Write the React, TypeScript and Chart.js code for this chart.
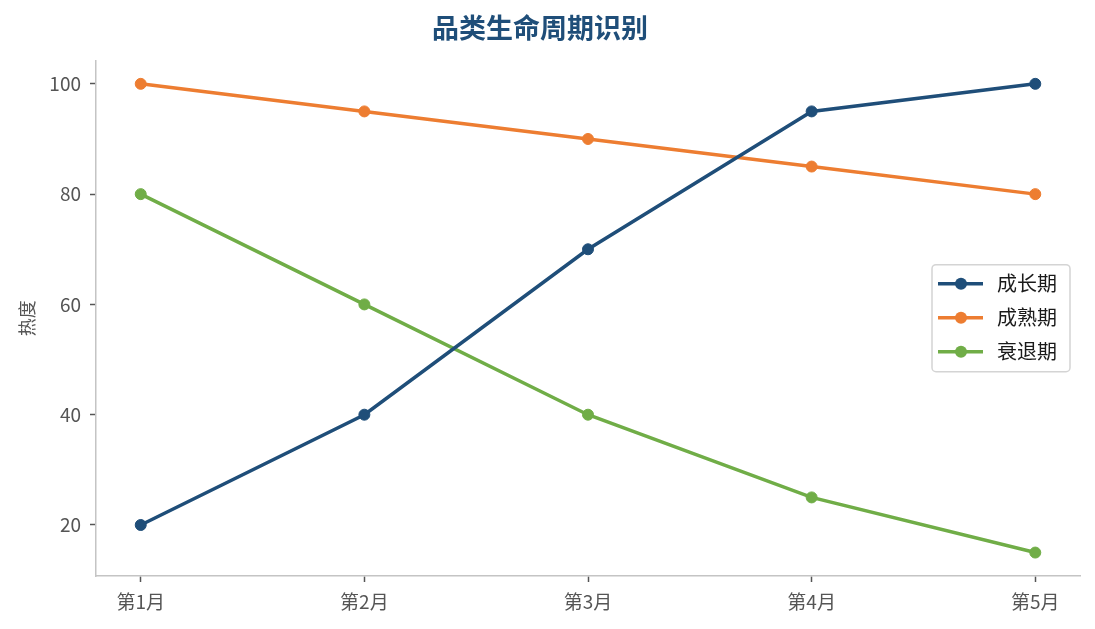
import { useEffect, useRef } from 'react'
import { Chart, registerables } from 'chart.js'

Chart.register(...registerables)

const MONTHS = ['第1月', '第2月', '第3月', '第4月', '第5月']
const GROWTH = [20, 40, 70, 95, 100]
const MATURE = [100, 95, 90, 85, 80]
const DECLINE = [80, 60, 40, 25, 15]
const Y_TICKS = [20, 40, 60, 80, 100]

const SERIES = [
  { label: '成长期', values: GROWTH, color: '#1f4e79' },
  { label: '成熟期', values: MATURE, color: '#ed7d31' },
  { label: '衰退期', values: DECLINE, color: '#70ad47' },
]

const FONT = '"Noto Sans CJK SC", "Noto Sans", sans-serif'

// legend drawn inside the plot, right side, like matplotlib's loc="center right"
const insideLegend = {
  id: 'insideLegend',
  afterDraw(chart: Chart) {
    const { ctx, chartArea } = chart
    const w = 138
    const h = 107
    const x = chartArea.right - 10 - w
    const y = (chartArea.top + chartArea.bottom) / 2 - h / 2
    ctx.save()
    ctx.beginPath()
    ctx.roundRect(x, y, w, h, 4)
    ctx.fillStyle = 'rgba(255,255,255,0.85)'
    ctx.fill()
    ctx.lineWidth = 1.5
    ctx.strokeStyle = '#d4d4d4'
    ctx.stroke()
    ctx.font = `20px ${FONT}`
    ctx.textBaseline = 'middle'
    SERIES.forEach((s, i) => {
      const cy = y + 19 + i * 34
      ctx.strokeStyle = s.color
      ctx.lineWidth = 3.5
      ctx.beginPath()
      ctx.moveTo(x + 6, cy)
      ctx.lineTo(x + 51, cy)
      ctx.stroke()
      ctx.fillStyle = s.color
      ctx.beginPath()
      ctx.arc(x + 29, cy, 6, 0, Math.PI * 2)
      ctx.fill()
      ctx.fillStyle = '#1a1a1a'
      ctx.fillText(s.label, x + 65, cy)
    })
    ctx.restore()
  },
}

export default function App() {
  const canvasRef = useRef<HTMLCanvasElement>(null)
  const chartRef = useRef<Chart | null>(null)

  useEffect(() => {
    chartRef.current?.destroy()
    chartRef.current = null
    if (!canvasRef.current) return

    chartRef.current = new Chart(canvasRef.current, {
      type: 'line',
      data: {
        datasets: SERIES.map((s) => ({
          label: s.label,
          data: s.values.map((v, i) => ({ x: i, y: v })),
          borderColor: s.color,
          backgroundColor: s.color,
          borderWidth: 3.5,
          pointRadius: 5.5,
          pointBorderWidth: 1,
          pointBorderColor: s.color,
          pointBackgroundColor: s.color,
          tension: 0,
        })),
      },
      options: {
        responsive: true,
        maintainAspectRatio: false,
        animation: false,
        layout: { padding: { left: 0, right: 15, top: 0, bottom: 0 } },
        plugins: {
          legend: { display: false },
          tooltip: { enabled: false },
          title: {
            display: true,
            text: '品类生命周期识别',
            color: '#1f4e79',
            font: { family: FONT, size: 27, weight: 'bold', lineHeight: 1.2 },
            padding: { top: 12, bottom: 16 },
          },
        },
        scales: {
          x: {
            type: 'linear',
            min: -0.2,
            max: 4.2,
            afterBuildTicks: (scale) => {
              scale.ticks = MONTHS.map((_, i) => ({ value: i }))
            },
            afterFit: (scale) => {
              scale.height = 53
            },
            ticks: {
              color: '#555',
              font: { family: FONT, size: 19 },
              padding: 8,
              maxRotation: 0,
              callback: (v) => MONTHS[Number(v)] ?? '',
            },
            grid: { drawOnChartArea: false, drawTicks: true, tickLength: 6, tickColor: '#555', tickWidth: 1.5 },
            border: { color: '#c4c4c4', width: 1.5 },
          },
          y: {
            min: 10.75,
            max: 104.25,
            afterBuildTicks: (scale) => {
              scale.ticks = Y_TICKS.map((v) => ({ value: v }))
            },
            afterFit: (scale) => {
              scale.width = 96
            },
            ticks: {
              color: '#555',
              font: { family: FONT, size: 19 },
              padding: 9,
            },
            grid: { drawOnChartArea: false, drawTicks: true, tickLength: 6, tickColor: '#555', tickWidth: 1.5 },
            border: { color: '#c4c4c4', width: 1.5 },
            title: {
              display: true,
              text: '热度',
              color: '#555',
              font: { family: FONT, size: 18 },
              padding: { top: 16, bottom: 0 },
            },
          },
        },
      },
      plugins: [insideLegend],
    })

    return () => {
      chartRef.current?.destroy()
      chartRef.current = null
    }
  }, [])

  return (
    <div style={{ position: 'fixed', left: 0, top: 0, width: 1095, height: 629, background: '#fff' }}>
      <canvas ref={canvasRef} />
    </div>
  )
}
